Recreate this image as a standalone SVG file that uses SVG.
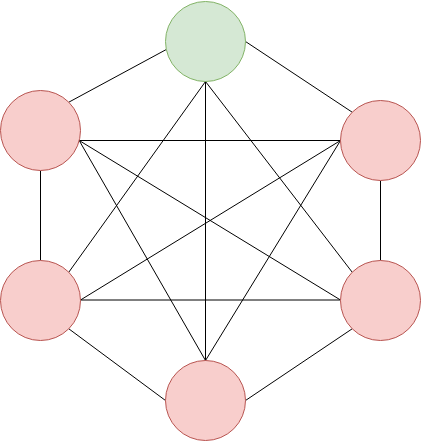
<svg xmlns="http://www.w3.org/2000/svg" width="421" height="441" viewBox="0 0 421 441">
<style>
.e{stroke:#000;stroke-width:1;fill:none}
.g{fill:#d5e8d4;stroke:#82b366;stroke-width:1}
.r{fill:#f8cecc;stroke:#b85450;stroke-width:1}
</style>
<rect width="421" height="441" fill="#fff"/>
<g id="connectors">
<line class="e" x1="166.3" y1="49.5" x2="68.8" y2="102.2"/>
<line class="e" x1="245.5" y1="41.5" x2="352.2" y2="112.2"/>
<line class="e" x1="205.5" y1="81.5" x2="68.8" y2="272.2"/>
<line class="e" x1="205.5" y1="81.5" x2="352.2" y2="272.2"/>
<line class="e" x1="205.5" y1="81.5" x2="205.5" y2="360.5"/>
<line class="e" x1="40.5" y1="170.5" x2="40.5" y2="260.5"/>
<line class="e" x1="380.5" y1="180.5" x2="380.5" y2="260.5"/>
<line class="e" x1="79.2" y1="140.5" x2="340.5" y2="140.5"/>
<line class="e" x1="79.2" y1="140.5" x2="340.5" y2="300"/>
<line class="e" x1="79.2" y1="140.5" x2="205.5" y2="360.5"/>
<line class="e" x1="340.5" y1="140.5" x2="80.5" y2="300"/>
<line class="e" x1="340.5" y1="140.5" x2="205.5" y2="360.5"/>
<line class="e" x1="80.5" y1="300" x2="340.5" y2="300"/>
<line class="e" x1="68.8" y1="328.8" x2="165.5" y2="400.5"/>
<line class="e" x1="352.2" y1="328.8" x2="245.5" y2="400.5"/>
</g>
<g id="top"><circle class="g" cx="205.5" cy="41.5" r="40"/></g>
<g id="left-top"><circle class="r" cx="40.5" cy="130.5" r="40"/></g>
<g id="right-top"><circle class="r" cx="380.5" cy="140.5" r="40"/></g>
<g id="left-bottom"><circle class="r" cx="40.5" cy="300.5" r="40"/></g>
<g id="right-bottom"><circle class="r" cx="380.5" cy="300.5" r="40"/></g>
<g id="bottom"><circle class="r" cx="205.5" cy="400.5" r="40"/></g>
</svg>
